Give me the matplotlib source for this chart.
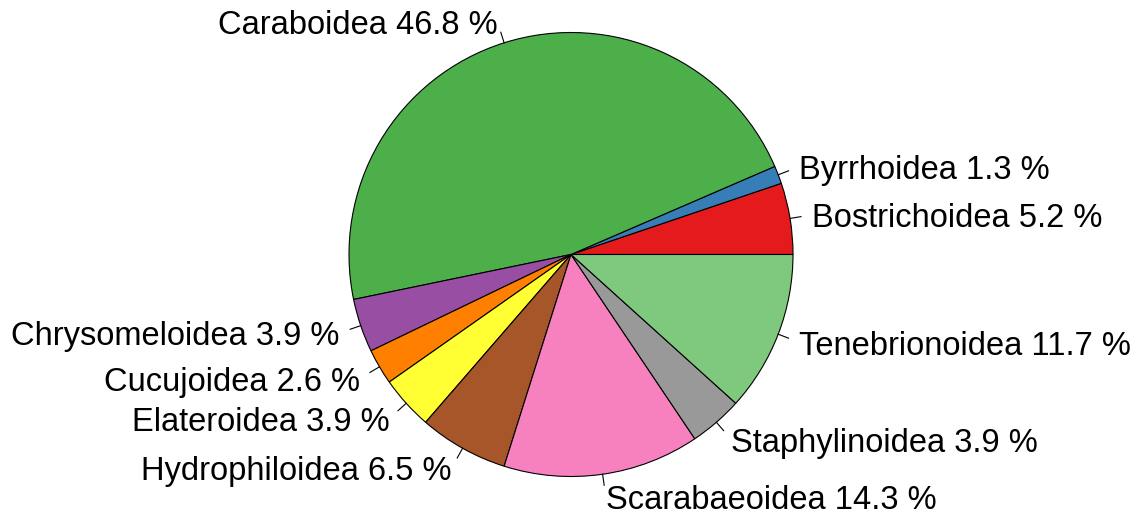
import numpy as np
import matplotlib.pyplot as plt

# superfamily shares (%)
families = ["Bostrichoidea", "Byrrhoidea", "Caraboidea", "Chrysomeloidea",
            "Cucujoidea", "Elateroidea", "Hydrophiloidea", "Scarabaeoidea",
            "Staphylinoidea", "Tenebrionoidea"]
shares = [5.2, 1.3, 46.8, 3.9, 2.6, 3.9, 6.5, 14.3, 3.9, 11.7]
colours = ["#E41A1C", "#377EB8", "#4DAF4A", "#984EA3", "#FF7F00",
           "#FFFF33", "#A65628", "#F781BF", "#999999", "#7FC97F"]

plt.rcParams['font.family'] = ['Liberation Sans', 'DejaVu Sans']

W, H = 1146, 519
cx, cy, R = 571, 254.5, 222

fig = plt.figure(figsize=(W / 100, H / 100), dpi=100)
ax = fig.add_axes([0, 0, 1, 1])

labels = ["{} {} %".format(f, s) for f, s in zip(families, shares)]
wedges, texts = ax.pie(shares, colors=colours, startangle=0, counterclock=True,
                       wedgeprops=dict(edgecolor="black", linewidth=0.8),
                       labels=labels, labeldistance=1.1,
                       textprops=dict(fontsize=23.5, color="black"))

# nudge labels down a little so the caps sit centred on the label point
for t in texts:
    x, y = t.get_position()
    t.set_position((x, y - 4.0 / R))

# short tick from the rim to each label, R style
mids = (np.cumsum(shares) - np.array(shares) / 2) / np.sum(shares) * 2 * np.pi
for a in mids:
    ax.plot([np.cos(a), 1.05 * np.cos(a)], [np.sin(a), 1.05 * np.sin(a)],
            color="black", lw=0.8)

ax.set_aspect('auto')
ax.set_xlim(-cx / R, (W - cx) / R)
ax.set_ylim(-(H - cy) / R, cy / R)
ax.axis('off')

fig.savefig("out.png", dpi=100)
